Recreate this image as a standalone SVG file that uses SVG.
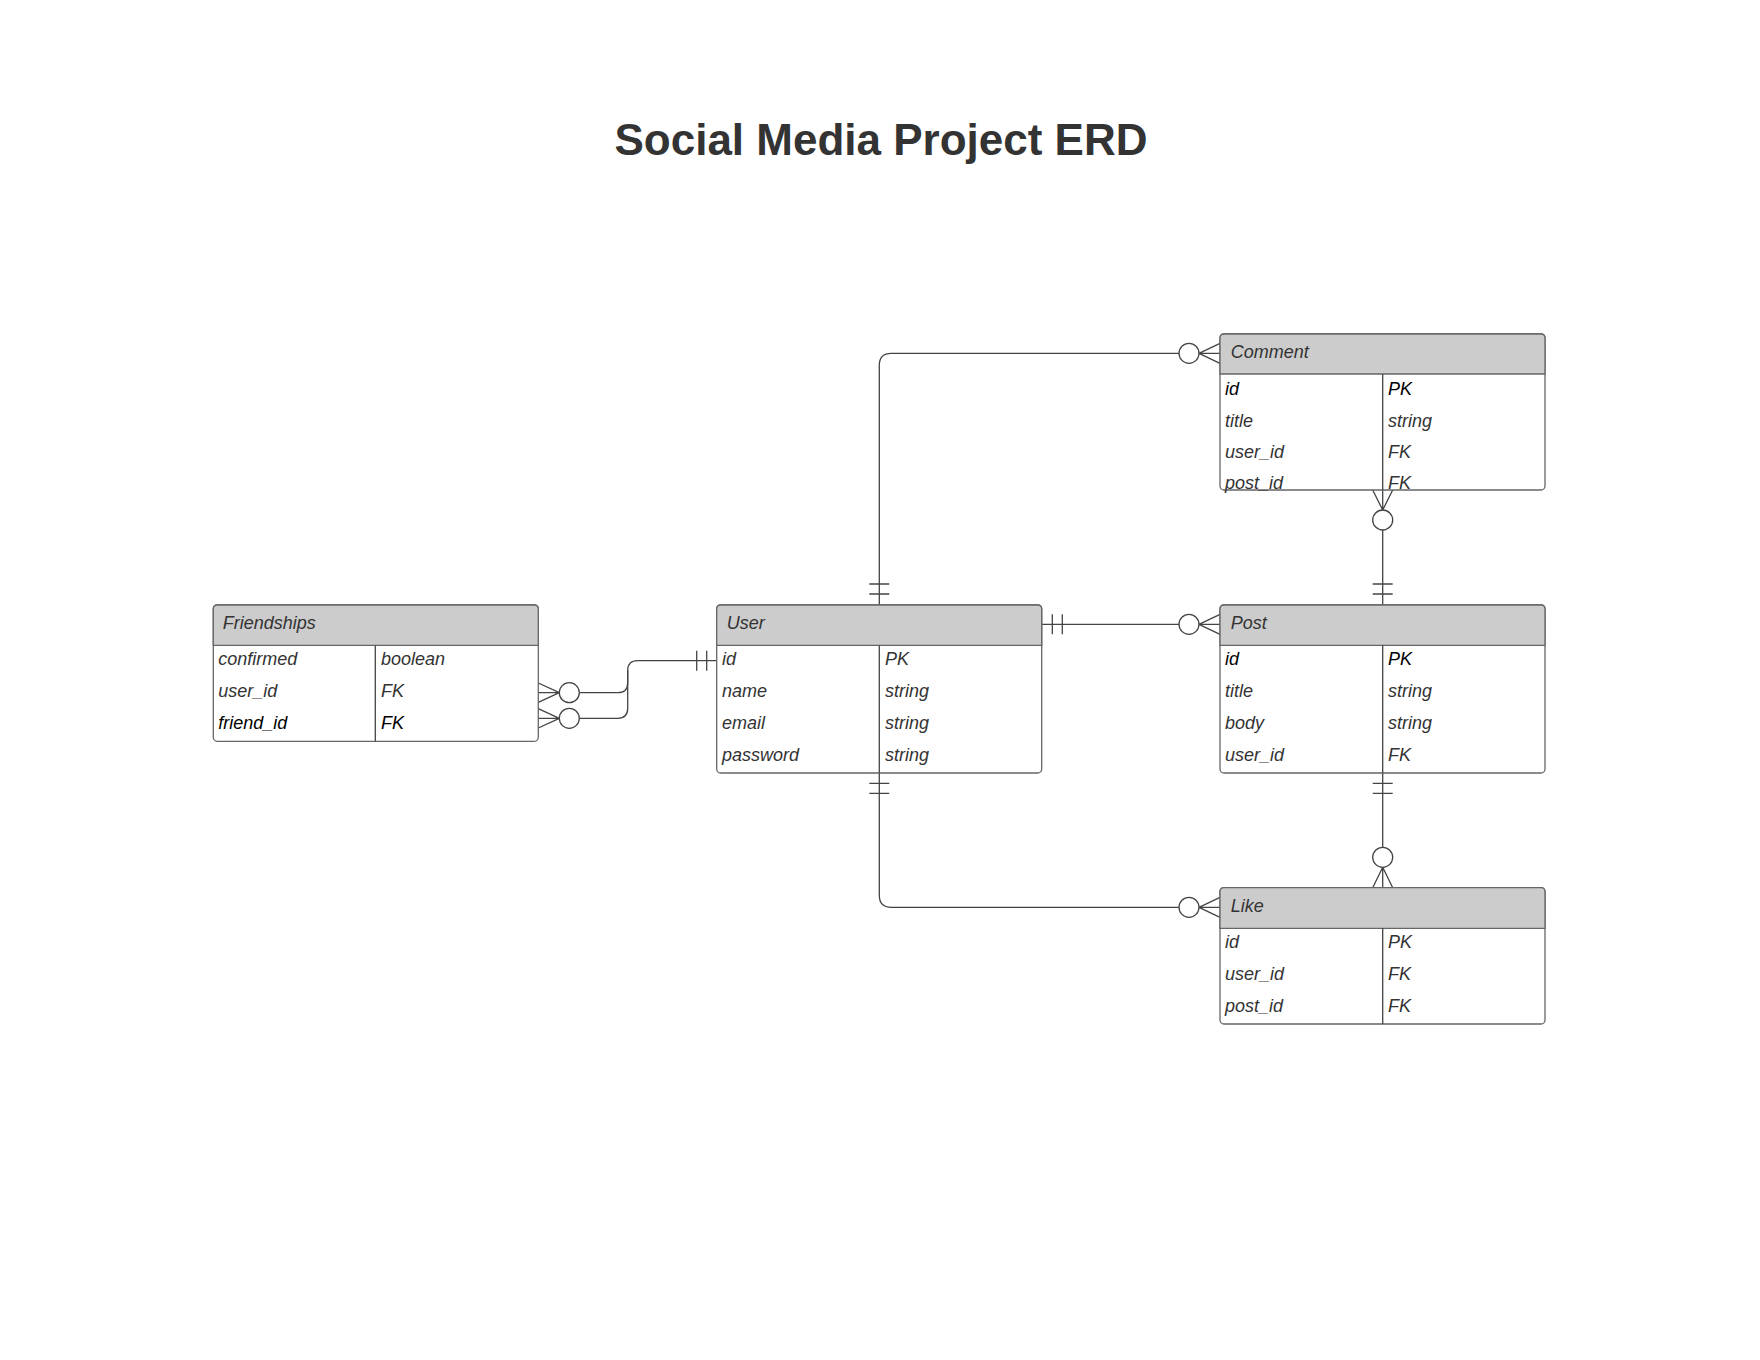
<svg xmlns="http://www.w3.org/2000/svg" width="1760" height="1360" viewBox="0 0 1760 1360">
<style>
.box{fill:#fff;stroke:#666;stroke-width:1.3}
.hdr{fill:#cccccc;stroke:#666;stroke-width:1.3}
.ln{fill:none;stroke:#444;stroke-width:1.3}
.ring{fill:#fff;stroke:#444;stroke-width:1.3}
.t{font-family:"Liberation Sans",Arial,sans-serif;font-size:18px;font-style:italic;fill:#333}
.k{fill:#000}
.title{font-family:"Liberation Sans",Arial,sans-serif;font-size:44px;font-weight:bold;fill:#333}
</style>
<rect width="1760" height="1360" fill="#fff"/>
<text class="title" x="881" y="155" text-anchor="middle">Social Media Project ERD</text>

<g id="connectors">
  <!-- User - Comment -->
  <path class="ln" d="M879.3 605 V365.3 Q879.3 353.3 891.3 353.3 H1179"/>
  <path class="ln" d="M869.3 584 H889.3 M869.3 594 H889.3"/>
  <circle class="ring" cx="1189" cy="353.3" r="10"/>
  <path class="ln" d="M1199 353.3 L1220 343.3 M1199 353.3 L1220 353.3 M1199 353.3 L1220 363.3"/>
  <!-- User - Post -->
  <path class="ln" d="M1041.7 624.3 H1179"/>
  <path class="ln" d="M1052.3 614.3 V634.3 M1062.3 614.3 V634.3"/>
  <circle class="ring" cx="1189" cy="624.3" r="10"/>
  <path class="ln" d="M1199 624.3 L1220 614.3 M1199 624.3 L1220 624.3 M1199 624.3 L1220 634.3"/>
  <!-- Post - Comment -->
  <path class="ln" d="M1382.7 605 V530"/>
  <path class="ln" d="M1372.7 584 H1392.7 M1372.7 594 H1392.7"/>
  <circle class="ring" cx="1382.7" cy="520" r="10"/>
  <path class="ln" d="M1382.7 510 L1372.7 490 M1382.7 510 L1382.7 490 M1382.7 510 L1392.7 490"/>
  <!-- Post - Like -->
  <path class="ln" d="M1382.7 772.7 V847.3"/>
  <path class="ln" d="M1372.7 783.3 H1392.7 M1372.7 793.3 H1392.7"/>
  <circle class="ring" cx="1382.7" cy="857.3" r="10"/>
  <path class="ln" d="M1382.7 867.3 L1372.7 887.7 M1382.7 867.3 L1382.7 887.7 M1382.7 867.3 L1392.7 887.7"/>
  <!-- User - Like -->
  <path class="ln" d="M879.3 772.7 V895.3 Q879.3 907.3 891.3 907.3 H1179"/>
  <path class="ln" d="M869.3 783.3 H889.3 M869.3 793.3 H889.3"/>
  <circle class="ring" cx="1189" cy="907.3" r="10"/>
  <path class="ln" d="M1199 907.3 L1220 897.3 M1199 907.3 L1220 907.3 M1199 907.3 L1220 917.3"/>
  <!-- User - Friendships -->
  <path class="ln" d="M579.3 692.7 H617.7 Q627.7 692.7 627.7 682.7 V670.7 Q627.7 660.7 637.7 660.7 H716.7"/>
  <path class="ln" d="M579.3 718.3 H617.7 Q627.7 718.3 627.7 708.3 V670.7"/>
  <path class="ln" d="M696.7 650.7 V670.7 M706.7 650.7 V670.7"/>
  <circle class="ring" cx="569.3" cy="692.7" r="10"/>
  <circle class="ring" cx="569.3" cy="718.3" r="10"/>
  <path class="ln" d="M559.3 692.7 L538.3 683 M559.3 692.7 L538.3 692.7 M559.3 692.7 L538.3 702.4"/>
  <path class="ln" d="M559.3 718.3 L538.3 708.6 M559.3 718.3 L538.3 718.3 M559.3 718.3 L538.3 728"/>
</g>

<g id="friendships">
  <rect class="box" x="213.3" y="605" width="325" height="136.3" rx="4"/>
  <path class="hdr" d="M217.3 605 H534.3 Q538.3 605 538.3 609 V645.3 H213.3 V609 Q213.3 605 217.3 605 Z"/>
  <path class="ln" d="M375.3 645.3 V741.3"/>
  <text class="t" x="222.7" y="629">Friendships</text>
  <text class="t" x="218.3" y="665">confirmed</text><text class="t" x="381" y="665">boolean</text>
  <text class="t" x="218.3" y="697">user_id</text><text class="t" x="381" y="697">FK</text>
  <text class="t k" x="218.3" y="729">friend_id</text><text class="t k" x="381" y="729">FK</text>
</g>

<g id="user">
  <rect class="box" x="716.7" y="605" width="325" height="168" rx="4"/>
  <path class="hdr" d="M720.7 605 H1037.7 Q1041.7 605 1041.7 609 V645.3 H716.7 V609 Q716.7 605 720.7 605 Z"/>
  <path class="ln" d="M879.3 645.3 V773"/>
  <text class="t" x="726.7" y="629">User</text>
  <text class="t" x="722" y="665">id</text><text class="t" x="885" y="665">PK</text>
  <text class="t" x="722" y="697">name</text><text class="t" x="885" y="697">string</text>
  <text class="t" x="722" y="729">email</text><text class="t" x="885" y="729">string</text>
  <text class="t" x="722" y="761">password</text><text class="t" x="885" y="761">string</text>
</g>

<g id="post">
  <rect class="box" x="1220" y="605" width="325" height="168" rx="4"/>
  <path class="hdr" d="M1224 605 H1541 Q1545 605 1545 609 V645.3 H1220 V609 Q1220 605 1224 605 Z"/>
  <path class="ln" d="M1382.7 645.3 V773"/>
  <text class="t" x="1230.7" y="629">Post</text>
  <text class="t k" x="1225" y="665">id</text><text class="t k" x="1388" y="665">PK</text>
  <text class="t" x="1225" y="697">title</text><text class="t" x="1388" y="697">string</text>
  <text class="t" x="1225" y="729">body</text><text class="t" x="1388" y="729">string</text>
  <text class="t" x="1225" y="761">user_id</text><text class="t" x="1388" y="761">FK</text>
</g>

<g id="comment">
  <rect class="box" x="1220" y="334" width="325" height="156" rx="4"/>
  <path class="hdr" d="M1224 334 H1541 Q1545 334 1545 338 V374 H1220 V338 Q1220 334 1224 334 Z"/>
  <path class="ln" d="M1382.7 374 V490"/>
  <text class="t" x="1230.7" y="358">Comment</text>
  <text class="t k" x="1225" y="395">id</text><text class="t k" x="1388" y="395">PK</text>
  <text class="t" x="1225" y="426.5">title</text><text class="t" x="1388" y="426.5">string</text>
  <text class="t" x="1225" y="458">user_id</text><text class="t" x="1388" y="458">FK</text>
  <text class="t" x="1225" y="489">post_id</text><text class="t" x="1388" y="489">FK</text>
</g>

<g id="like">
  <rect class="box" x="1220" y="887.7" width="325" height="136.3" rx="4"/>
  <path class="hdr" d="M1224 887.7 H1541 Q1545 887.7 1545 891.7 V928.3 H1220 V891.7 Q1220 887.7 1224 887.7 Z"/>
  <path class="ln" d="M1382.7 928.3 V1024"/>
  <text class="t" x="1230.7" y="911.7">Like</text>
  <text class="t" x="1225" y="948">id</text><text class="t" x="1388" y="948">PK</text>
  <text class="t" x="1225" y="980">user_id</text><text class="t" x="1388" y="980">FK</text>
  <text class="t" x="1225" y="1012">post_id</text><text class="t" x="1388" y="1012">FK</text>
</g>
</svg>
